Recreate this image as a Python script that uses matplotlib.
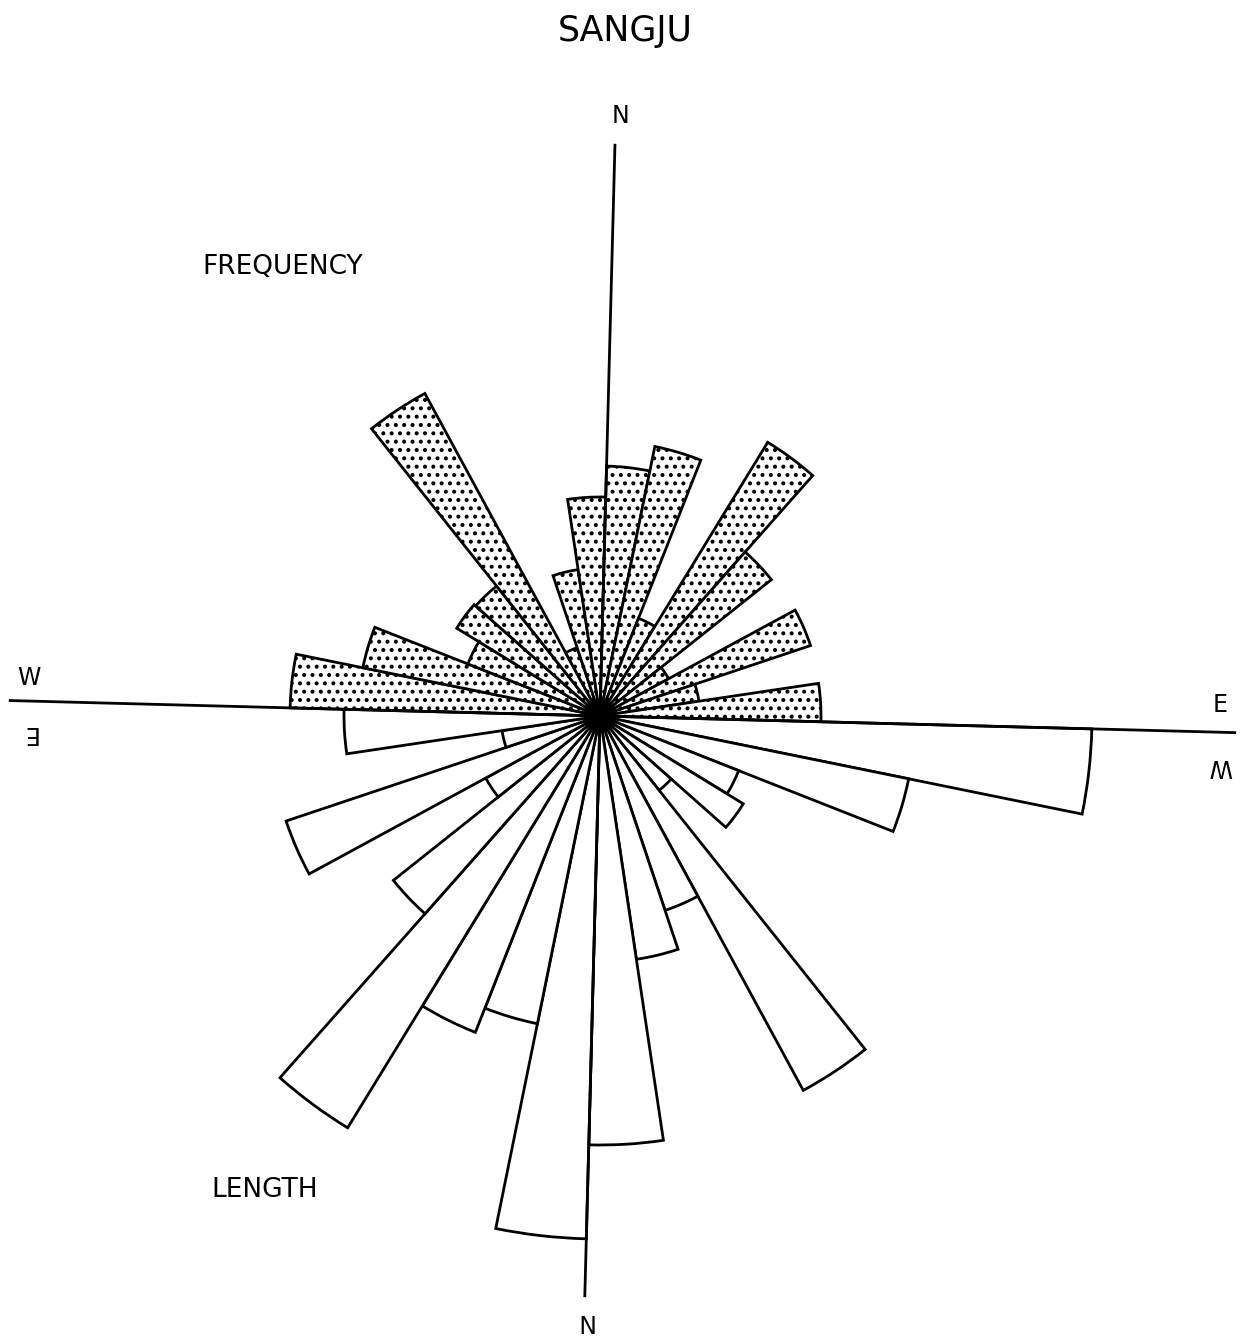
import numpy as np
import matplotlib
matplotlib.use("Agg")
import matplotlib.pyplot as plt

# ==========================================
# DATA: 10-degree bins, N90W ... N90E (bin centres, degrees from N)
# ==========================================
bin_centres = [-85, -75, -65, -55, -45, -35, -25, -15, -5,
               5, 15, 25, 35, 45, 55, 65, 75, 85]

# upper half (stippled) - frequency, chart units
frequency = [310, 242, 142, 168, 166, 367, 72, 148, 219,
             250, 275, 105, 321, 219, 78, 222, 100, 221]

# lower half (open) - length, chart units, drawn turned by 180 degrees
length = [492, 315, 149, 168, 95, 426, 205, 246, 429,
          523, 314, 340, 483, 264, 130, 331, 99, 256]

title = "SANGJU"
freq_label = "FREQUENCY"
length_label = "LENGTH"

# ==========================================
# FIGURE
# ==========================================
W, H = 1243, 1338
cx, cy = 600, 716          # centre of the rose in pixels
R = 640                    # radius of the axes in pixels / chart units
TILT = 1.5                 # scanned page is turned slightly clockwise

plt.rcParams['font.family'] = ['DejaVu Sans']
plt.rcParams['hatch.linewidth'] = 1.7

fig = plt.figure(figsize=(W / 100, H / 100), dpi=100)
ax = fig.add_axes([(cx - R) / W, (H - cy - R) / H, 2 * R / W, 2 * R / H],
                  projection='polar')
ax.set_theta_zero_location('N', offset=-TILT)
ax.set_theta_direction(-1)
ax.set_rlim(0, R)
ax.axis('off')

theta = np.deg2rad(bin_centres)
width = np.deg2rad(10)

# frequency half
ax.bar(theta, frequency, width=width, bottom=0, facecolor='white',
       edgecolor='black', linewidth=2.0, hatch='..', zorder=2)

# length half (turned 180 degrees)
ax.bar(theta + np.pi, length, width=width, bottom=0, facecolor='white',
       edgecolor='black', linewidth=2.0, zorder=2)

# compass axes
for ang, r in [(0, 571), (180, 580), (90, 635), (270, 590)]:
    ax.plot([np.deg2rad(ang)] * 2, [0, r], color='black', lw=2.0,
            zorder=3, clip_on=False)


def ftext(x, y, s, **kw):
    fig.text(x / W, 1 - y / H, s, ha='center', va='center', color='black', **kw)


ftext(625, 31, title, fontsize=25)
ftext(283, 267, freq_label, fontsize=19)
ftext(265, 1190, length_label, fontsize=19)

# compass letters; the length half is labelled upside down
ftext(620, 116, "N", fontsize=17)
ftext(584, 1321, "N", fontsize=17, rotation=180)
ftext(29, 678, "W", fontsize=17)
ftext(29, 733, "E", fontsize=17, rotation=180)
ftext(1220, 705, "E", fontsize=17)
ftext(1221, 766, "W", fontsize=17, rotation=180)

fig.savefig("out.png", dpi=100, facecolor='white')
